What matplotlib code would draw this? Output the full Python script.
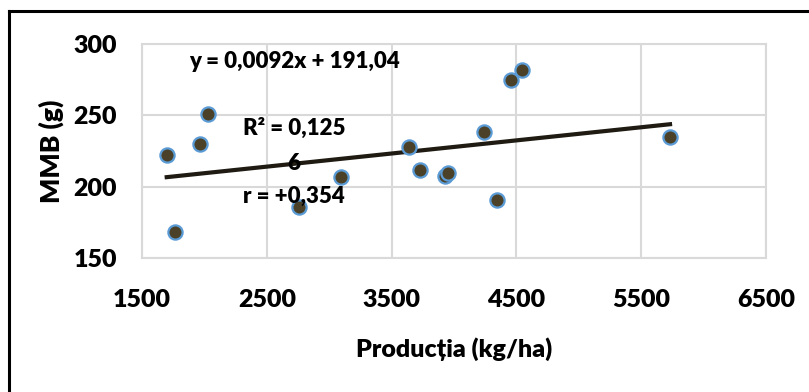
import matplotlib
matplotlib.use("Agg")
import matplotlib.pyplot as plt
from matplotlib.lines import Line2D
import numpy as np

plt.rcParams['font.family'] = ['Lato', 'DejaVu Sans']
plt.rcParams['font.weight'] = 'bold'

# Data
productia = [1698, 1764, 1965, 2029, 2760, 3097, 3639, 3728, 3928, 3955,
             4240, 4345, 4460, 4547, 5731]
mmb = [222.0, 168.5, 229.7, 250.7, 185.5, 206.8, 227.8, 211.7, 207.7, 209.4,
       238.1, 190.7, 274.8, 281.8, 234.8]
slope = 0.0092
intercept = 191.04
eq_label = "y = 0,0092x + 191,04"
r2_label = "R² = 0,125"
r2_label2 = "6"
r_label = "r = +0,354"
xticks = [1500, 2500, 3500, 4500, 5500, 6500]
yticks = [150, 200, 250, 300]

W, H = 809, 392
fig = plt.figure(figsize=(W / 100, H / 100), dpi=100)
ax = fig.add_axes([142 / W, 1 - 258 / H, (766 - 142) / W, (258 - 44) / H])

ax.set_xlim(1500, 6500)
ax.set_ylim(150, 300)
ax.set_xticks(xticks)
ax.set_yticks(yticks)
ax.grid(True, color='#d9d9d9', linewidth=1.5)
ax.set_axisbelow(True)
for s in ax.spines.values():
    s.set_color('#d9d9d9')
    s.set_linewidth(1.5)
ax.tick_params(length=0, labelsize=18)
ax.tick_params(axis='y', pad=18)
ax.tick_params(axis='x', pad=22)
for lbl in ax.get_xticklabels() + ax.get_yticklabels():
    lbl.set_fontweight('heavy')

# trend line
xs = np.array([min(productia), max(productia)])
ax.plot(xs, slope * xs + intercept, color='#1f1a12', linewidth=3, zorder=3)

ax.scatter(productia, mmb, s=105, facecolor='#4a4128', edgecolor='#5b9bd5',
           linewidth=1.6, zorder=4)

fs = 16
for yv, s in [(287.4, eq_label), (241.1, r2_label), (216.5, r2_label2), (193.4, r_label)]:
    ax.text(2718, yv, s, ha='center', va='center', fontsize=fs,
            fontweight='heavy', zorder=5)

ax.set_xlabel("Producția (kg/ha)", fontsize=18, fontweight='heavy')
ax.set_ylabel("MMB (g)", fontsize=19, fontweight='heavy')
ax.yaxis.set_label_coords(-0.125, 0.5)
ax.xaxis.set_label_coords(0.5, -0.37)

# outer border (top and left)
fig.add_artist(Line2D([9 / W, 1], [1 - 11 / H, 1 - 11 / H], color='black',
                      linewidth=2.2, transform=fig.transFigure))
fig.add_artist(Line2D([9 / W, 9 / W], [0, 1 - 11 / H], color='black',
                      linewidth=2.2, transform=fig.transFigure))

fig.savefig("out.png", dpi=100)
